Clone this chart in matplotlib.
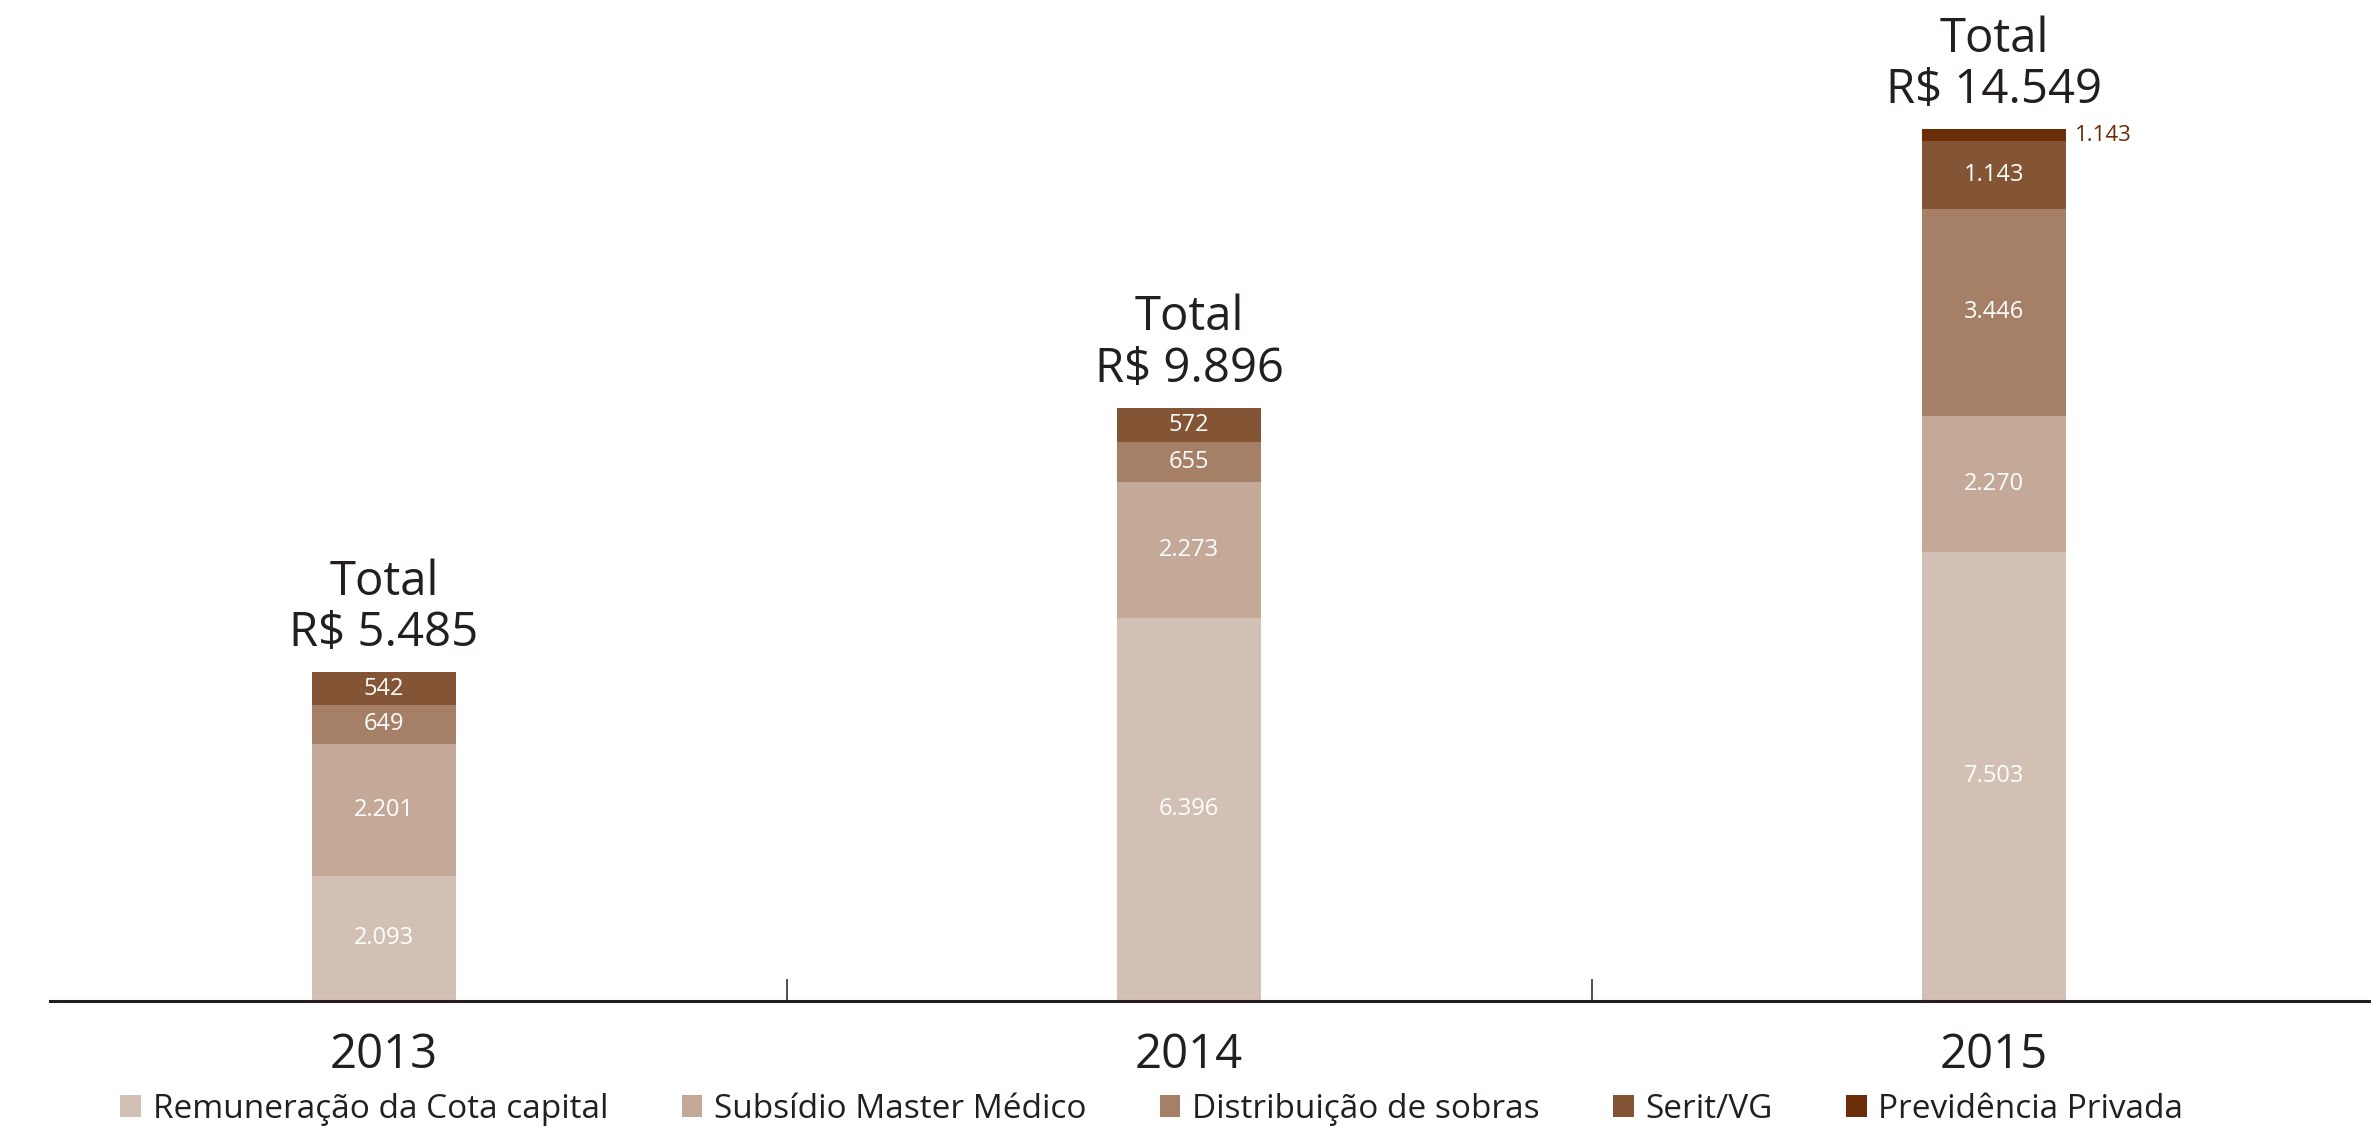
import numpy as np
import matplotlib.pyplot as plt
from matplotlib.patches import Patch

plt.rcParams['font.family'] = ['Open Sans', 'DejaVu Sans']

# data
years = ['2013', '2014', '2015']
series_names = ['Remuneração da Cota capital', 'Subsídio Master Médico',
                'Distribuição de sobras', 'Serit/VG', 'Previdência Privada']
remuneracao = [2093, 6396, 7503]
subsidio = [2201, 2273, 2270]
distribuicao = [649, 655, 3446]
serit = [542, 572, 1143]
previdencia = [0, 0, 187]
previdencia_label = '1.143'   # as printed in the source chart
totals = [5485, 9896, 14549]

colors = ['#d3c0b4', '#c4a999', '#a58066', '#845535', '#6a2d08']
text_dark = '#231f20'


def fmt(v):
    return f'{v:,}'.replace(',', '.')


fig = plt.figure(figsize=(23.71, 11.30), dpi=100)
ax = fig.add_axes([50 / 2371, 129 / 1130, 1 - 50 / 2371, 1 - 129 / 1130])

x = np.arange(len(years))
width = 0.179
series = [remuneracao, subsidio, distribuicao, serit, previdencia]
bottom = np.zeros(len(years))
for vals, col in zip(series, colors):
    vals = np.array(vals, dtype=float)
    ax.bar(x, vals, width, bottom=bottom, color=col, linewidth=0)
    bottom += vals

# segment labels (white, centred)
bottom = np.zeros(len(years))
for vals in series[:4]:
    for i, v in enumerate(vals):
        ax.text(x[i], bottom[i] + v / 2, fmt(v), ha='center', va='center',
                color='white', fontsize=17)
    bottom += np.array(vals)

# small label for Previdência next to 2015 bar
i = 2
ax.annotate(previdencia_label, (x[i] + width / 2, bottom[i] + previdencia[i] / 2),
            xytext=(6, 0), textcoords='offset points', ha='left', va='center',
            color='#6a2d08', fontsize=16)

# totals above bars
for i, t in enumerate(totals):
    ax.annotate('R$ ' + fmt(t), (x[i], t), xytext=(0, 19), textcoords='offset points',
                ha='center', va='baseline', fontsize=34, color=text_dark)
    ax.annotate('Total', (x[i], t), xytext=(0, 56), textcoords='offset points',
                ha='center', va='baseline', fontsize=34, color=text_dark)

ax.set_xlim(-0.415, 2.468)
ax.set_ylim(0, 16710)
for s in ['top', 'right', 'left']:
    ax.spines[s].set_visible(False)
ax.spines['bottom'].set_linewidth(2.2)
ax.spines['bottom'].set_color(text_dark)
ax.set_yticks([])
ax.set_xticks(x)
ax.set_xticklabels(years, fontsize=34, color=text_dark)
ax.tick_params(axis='x', which='major', length=0, pad=22)
ax.set_xticks([0.5, 1.5], minor=True)
ax.tick_params(axis='x', which='minor', direction='in', length=16, width=1.1,
               color=text_dark)

handles = [Patch(facecolor=c, edgecolor='none') for c in colors]
fig.legend(handles, series_names, loc='center', bbox_to_anchor=(1152 / 2371, 1 - 1109 / 1130),
           ncol=5, frameon=False, fontsize=24, handlelength=0.62, handleheight=0.62,
           handletextpad=0.35, columnspacing=2.2, labelcolor=text_dark)

fig.savefig('out.png', dpi=100)
